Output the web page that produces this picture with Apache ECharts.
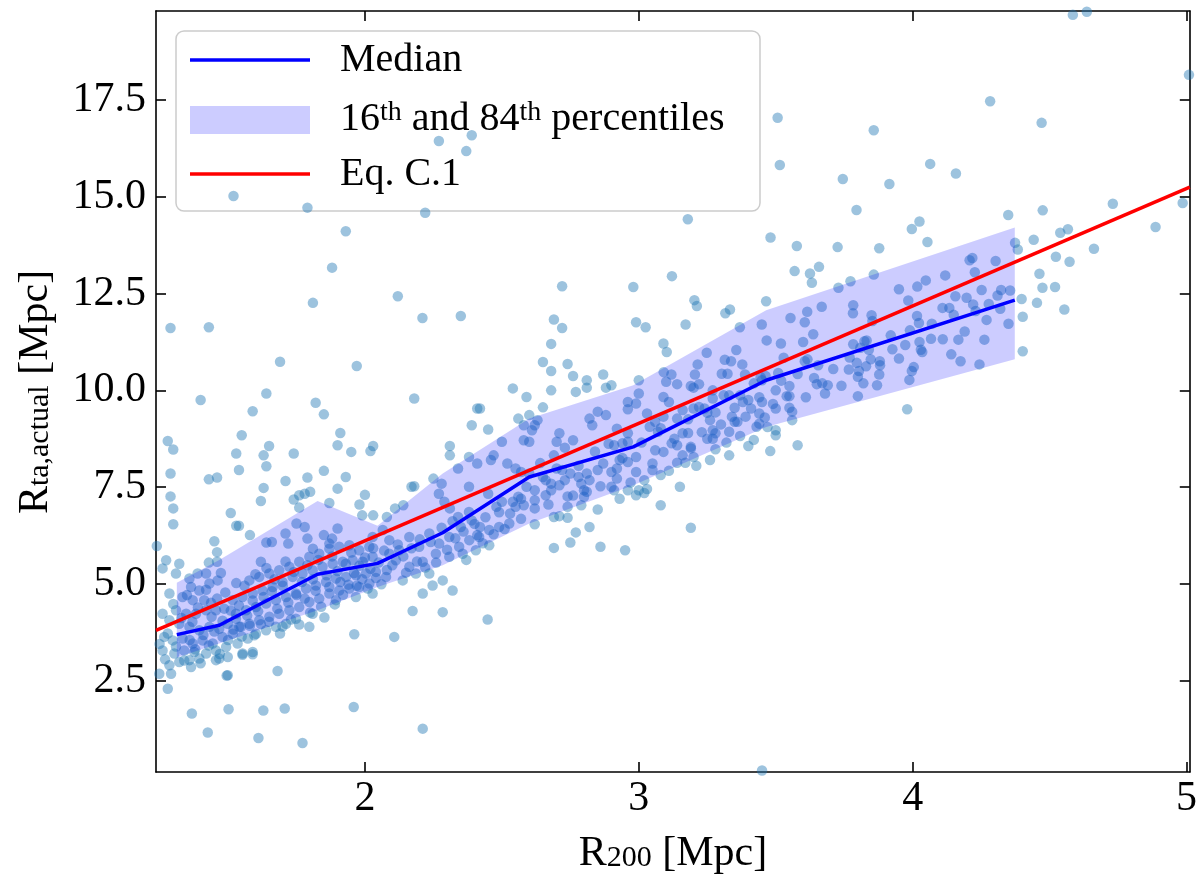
<!DOCTYPE html>
<html>
<head>
<meta charset="utf-8">
<title>R_ta,actual vs R200</title>
<script src="https://cdn.jsdelivr.net/npm/echarts@6/dist/echarts.min.js"></script>
<style>
  html, body { margin: 0; padding: 0; background: #fff; }
  #chart { width: 1200px; height: 892px; }
</style>
</head>
<body>
<div id="chart"></div>
<script>
// axis ranges / ticks
const xRange = [1.237, 5.012];
const yRange = [0.14, 19.80];
const xTicks = [2, 3, 4, 5];
const yTicks = [2.5, 5.0, 7.5, 10.0, 12.5, 15.0, 17.5];

// binned statistics (median + 16th/84th percentiles)
const binR200  = [1.313, 1.468, 1.827, 2.046, 2.284, 2.60, 2.98, 3.465, 4.373];
const medianRta = [3.69, 3.93, 5.25, 5.53, 6.32, 7.76, 8.54, 10.26, 12.33];
const p16Rta   = [3.10, 3.46, 4.32, 4.92, 5.48, 6.56, 7.55, 9.05, 10.80];
const p84Rta   = [5.03, 5.62, 7.14, 6.50, 7.85, 9.27, 10.13, 12.07, 14.21];

// Eq. C.1 (straight line across the plot)
const eqR200 = [1.237, 5.012];
const eqRta  = [3.80, 15.25];

// individual haloes [R200, Rta,actual]
const haloPts = [
  // upper left
  [1.52,15.02],[1.79,14.72],[2.27,16.44],[2.37,16.18],[2.39,16.59],
  [2.22,14.59],[1.93,14.11],[1.88,13.17],[1.81,12.26],[2.12,12.43],[2.21,11.87],[2.35,11.92],
  [1.29,11.61],[1.43,11.63],[1.69,10.74],[1.97,10.63],
  [2.72,12.69],[2.98,12.67],[2.69,11.83],[2.72,11.61],[2.68,11.20],[2.65,10.73],[2.68,10.50],
  [2.74,10.68],[2.76,10.37],[2.87,10.41],[2.99,11.76],
  // upper right
  [4.585,19.70],[4.636,19.78],[5.009,18.15],[4.283,17.47],[3.507,17.04],[3.858,16.72],[4.471,16.91],
  [3.515,15.82],[4.064,15.85],[4.158,15.60],[3.745,15.46],[3.915,15.33],[3.795,14.66],[4.349,14.53],
  [4.475,14.65],[4.731,14.82],[4.986,14.84],[4.887,14.22],[4.662,13.66],[3.179,14.42],[3.481,13.95],
  [3.577,13.73],[3.726,13.70],[3.878,13.67],[3.997,14.17],[4.025,14.36],[4.054,13.83],[4.374,13.81],
  [4.384,13.64],[4.442,13.89],[4.539,14.07],[4.567,14.16],[4.523,13.45],[4.573,13.32],[4.463,13.01],
  [4.474,12.65],[4.520,12.67],[4.398,12.36],[4.454,12.26],[4.554,12.09],[4.402,11.90],[4.402,11.01],
  [3.121,12.95],[3.203,12.33],[3.212,12.18],[3.171,11.70],[3.316,11.99],[3.333,12.09],[3.025,11.63],
  [3.090,11.21],[3.102,10.99],[3.465,12.30],
  [3.569,13.08],[3.625,13.02],[3.632,12.78],[3.658,13.19],[3.729,12.65],[3.773,12.82],[3.858,12.99],
  [3.950,12.61],[3.984,12.32],[4.017,12.68],[4.048,12.84],[4.119,12.97],
  [4.208,13.36],[4.218,13.42],[4.227,13.05],[4.303,13.34],[4.252,12.59],[4.323,12.59],[4.356,12.58],
  [4.156,12.43],[4.197,12.39],[4.221,12.22],[4.278,12.23],[4.320,12.11],[4.109,12.13],[4.134,12.13],
  [3.783,12.20],[3.782,11.99],[3.668,12.16],[3.615,12.03],[3.606,11.76],[3.554,11.87],[3.449,11.70],
  [3.369,11.63],[3.248,10.97],[3.314,10.79],[3.337,10.75],[3.356,11.04],[3.378,10.67],
  [3.467,11.29],[3.519,11.21],[3.600,11.25],[3.637,11.45],[3.529,10.84],[3.606,10.75],[3.616,10.80],[3.655,10.65],
  [3.783,11.19],[3.809,11.10],[3.832,11.29],[3.824,11.27],[3.850,11.94],[3.853,11.79],
  [3.926,11.06],[3.973,11.17],[4.025,11.25],[4.035,10.99],[4.067,11.33],[4.016,11.92],[4.023,11.74],
  [4.141,10.93],[4.175,10.75],[4.167,11.31],[4.244,10.67],[4.262,11.31],
  [3.796,10.71],[3.767,10.54],[3.804,10.50],[3.830,10.62],[3.847,10.80],[3.881,10.65],[3.878,10.41],
  [4.004,10.60],[3.997,10.50],[3.988,10.27],[3.98,9.51],
  [3.463,10.37],[3.509,10.45],[3.091,10.47],[3.119,10.41],[3.205,10.41],[3.215,10.67],
  [3.303,10.43],[3.324,10.43],[3.388,10.41],[3.445,10.34],
  [3.52,10.25],[3.58,10.42],[3.64,10.32],[3.71,10.55],[3.77,10.85],[3.84,11.05],[3.92,11.42],
  [3.99,11.55],[4.07,11.72],[4.11,11.32],[4.15,11.95],[4.19,11.52],[4.23,12.05],[4.27,11.82],
  [4.31,12.45],[4.35,11.72],[3.95,10.82],[4.03,11.05],[3.88,10.75],[3.74,10.12],[3.80,10.35],[3.68,9.92],
  // middle band
  [2.59,9.83],[2.68,10.00],[2.77,9.96],[2.81,10.07],[2.81,10.26],[2.88,10.07],[2.90,10.13],[3.00,10.26],
  [3.10,10.22],[3.14,10.16],[3.19,10.11],[3.22,10.16],[3.20,10.07],[3.27,10.00],[3.31,9.87],[3.33,9.87],
  [3.37,9.87],[3.42,10.18],[3.45,10.26],[3.50,10.00],[3.55,10.11],[3.55,9.85],[3.65,10.16],[3.67,10.18],
  [3.69,10.13],[3.82,10.18],[3.87,10.13],[3.80,9.85],
  [2.65,9.56],[2.60,9.36],[2.63,9.23],[2.62,9.10],[2.61,8.97],[2.58,9.10],[2.58,8.71],[2.60,8.67],
  [2.71,8.89],[2.70,8.67],[2.76,8.71],[2.82,9.27],[2.85,9.45],[2.83,9.10],[2.88,9.36],[2.92,9.01],
  [2.96,8.89],[2.96,8.67],[2.94,8.63],[2.91,8.58],[2.96,9.51],[2.96,9.70],[2.99,9.66],[3.00,9.92],
  [3.03,9.40],[3.04,9.06],[3.06,9.19],[3.07,8.93],[3.09,9.32],[3.09,9.83],[3.11,9.70],[3.14,9.27],
  [3.12,8.63],[3.14,8.58],[3.16,9.49],[3.18,8.90],[3.16,8.89],[3.19,8.54],[3.20,9.53],[3.22,9.57],
  [3.24,9.53],[3.27,9.79],[3.28,9.43],[3.26,9.23],[3.27,8.97],[3.25,8.75],[3.27,8.75],[3.28,8.89],
  [3.33,8.93],[3.34,9.32],[3.35,9.19],[3.36,9.19],[3.38,9.70],[3.40,9.75],[3.41,9.53],[3.44,9.40],
  [3.45,9.70],[3.46,9.30],[3.43,9.06],[3.44,9.14],[3.50,9.53],[3.54,9.85],[3.56,9.45],[3.56,9.23],
  [3.50,8.97],[3.50,8.84],[3.58,8.58],[3.48,8.43],[3.40,8.56],[3.33,8.32],[3.26,8.20],
  [2.57,7.89],[2.60,7.85],[2.59,7.51],[2.57,7.20],[2.58,7.03],[2.62,7.16],[2.62,6.95],[2.65,7.76],
  [2.66,7.68],[2.68,7.59],[2.70,7.98],[2.72,7.94],[2.73,7.68],[2.75,7.85],[2.78,7.76],[2.79,7.59],
  [2.80,7.42],[2.82,7.68],[2.85,7.94],[2.87,8.11],[2.90,7.89],[2.92,7.98],[2.93,8.20],[2.96,8.15],
  [2.99,8.28],[2.99,7.89],[3.02,7.68],[3.05,8.11],[3.05,7.94],[3.08,7.81],[3.09,8.41],[3.14,8.13],
  [3.17,8.13],[3.19,8.50],[3.20,8.28],
  [2.66,7.29],[2.68,7.42],[2.74,7.26],[2.74,6.99],[2.79,7.03],[2.80,7.25],[2.81,7.38],[2.85,6.92],
  [2.90,7.51],[2.91,7.42],[2.93,7.20],[2.96,7.42],[2.99,7.29],[3.00,7.42],[3.02,7.35],[3.08,7.03],
  [3.15,7.51],[2.69,6.73],[2.71,6.75],[2.74,6.71],[2.62,6.54],[2.82,6.47],[2.77,6.33],[2.75,6.07],
  [2.69,5.93],[2.86,5.96],[2.95,5.87],[3.19,6.45],[3.45,0.18],
  [2.62,7.42],[2.64,8.12],[2.67,7.05],[2.69,8.32],[2.71,7.55],[2.73,8.52],[2.76,7.28],[2.78,8.05],
  [2.81,7.85],[2.84,8.42],[2.86,7.52],[2.89,8.62],[2.92,7.72],[2.94,8.25],[2.97,7.62],[3.01,8.65],
  [3.03,7.45],[3.06,8.45],[3.08,9.02],[3.11,7.92],[3.13,8.75],[3.16,8.32],[3.18,9.25],[3.21,8.05],
  [3.23,8.92],[3.25,9.42],[3.28,8.48],[3.30,9.12],[3.32,8.65],[3.35,9.55],[3.37,8.82],[3.39,9.32],
  [3.42,8.72],[3.44,9.82],[3.47,9.05],[3.49,9.65],[3.55,9.55],[3.61,9.82],
  // left, above the band
  [1.40,9.75],[1.64,9.92],[1.82,9.68],[1.85,9.38],[1.59,9.46],[2.18,9.79],[2.54,10.05],
  [1.28,8.69],[1.30,8.47],[1.29,7.85],[1.29,7.26],[1.30,6.95],[1.30,6.54],[1.24,5.98],
  [1.55,8.84],[1.53,8.37],[1.54,7.94],[1.43,7.70],[1.46,7.75],
  [1.63,8.32],[1.65,8.56],[1.64,8.04],[1.63,7.48],[1.62,7.14],
  [1.74,8.37],[1.71,7.66],[1.74,7.18],[1.76,7.29],[1.78,7.33],[1.80,7.38],[1.76,6.97],[1.79,7.75],
  [1.91,8.90],[1.90,8.58],[1.95,8.41],[1.85,7.92],[1.93,7.76],[1.90,7.46],[1.87,7.09],
  [2.02,8.43],[2.03,8.56],[2.00,7.30],[1.98,7.05],[1.99,6.77],[2.03,6.77],
  [1.51,6.83],[1.53,6.50],[1.54,6.50],[1.58,6.26],[1.45,6.10],[1.46,5.82],[1.43,5.55],[1.46,5.57],
  [1.64,6.07],[1.66,6.08],[1.62,5.57],[1.71,6.30],[1.72,6.04],[1.75,6.56],[1.78,6.47],[1.79,6.17],
  [1.81,5.91],[1.85,6.26],[1.87,6.04],[1.88,6.17],[1.90,6.43],
  [2.17,7.51],[2.18,7.52],[2.14,7.03],[2.11,6.95],[2.08,6.73],
  [2.25,7.72],[2.28,7.59],[2.31,8.56],[2.31,8.32],[2.34,7.98],[2.38,7.51],[2.38,8.28],[2.41,8.11],
  [2.39,9.10],[2.41,9.53],[2.42,9.53],[2.45,8.99],[2.47,8.32],[2.46,8.20],[2.50,8.67],[2.52,8.11],
  [2.55,7.98],[2.56,9.27],
  [2.27,7.33],[2.29,7.12],[2.31,6.95],[2.34,6.73],[2.35,6.47],[2.38,6.86],[2.39,6.64],[2.41,6.26],
  [2.42,6.47],[2.45,7.33],[2.48,6.99],[2.50,7.12],[2.53,6.82],[2.55,6.99],[2.56,7.25],
  [2.089,6.13],[2.125,5.87],[2.162,6.21],[2.198,5.96],[2.235,6.30],[2.271,6.04],[2.308,6.21],[2.344,5.96],
  [2.381,6.13],[2.417,6.21],[2.454,6.39],[2.490,6.47],[2.527,6.56],[2.113,5.61],[2.162,5.44],[2.211,5.57],
  [2.259,5.78],[2.308,5.70],[2.357,5.78],[2.405,5.87],[2.454,6.00],[2.077,5.18],[2.138,5.09],[2.186,5.27],
  [2.235,5.27],[2.089,5.78],[2.028,6.21],[2.065,6.39],
  // dense lower-left cloud
  [1.322,5.52],[1.274,5.61],[1.261,5.40],[1.310,5.27],[1.286,4.75],[1.359,5.14],[1.389,5.27],[1.420,5.27],
  [1.365,4.92],[1.395,4.83],[1.432,5.01],[1.462,5.09],[1.474,5.28],[1.334,4.66],[1.371,4.58],[1.413,4.58],
  [1.438,4.51],[1.310,4.32],[1.347,4.23],[1.383,4.23],[1.420,4.32],[1.456,4.32],[1.486,4.36],[1.261,4.23],
  [1.286,4.06],[1.322,3.97],[1.359,3.89],[1.395,3.80],[1.432,3.89],[1.468,3.84],[1.499,3.97],[1.529,4.10],
  [1.267,3.63],[1.298,3.54],[1.334,3.59],[1.371,3.46],[1.407,3.54],[1.444,3.46],[1.480,3.63],[1.517,3.71],
  [1.547,3.89],[1.261,3.28],[1.304,3.20],[1.340,3.28],[1.377,3.24],[1.420,3.20],[1.456,3.28],[1.493,3.37],
  [1.535,3.46],[1.572,3.59],[1.286,2.90],[1.322,2.98],[1.359,3.03],[1.395,3.07],[1.456,3.03],[1.499,3.11],
  [1.553,3.20],[1.590,3.24],[1.249,2.68],[1.292,2.68],[1.365,2.85],[1.468,3.07],[1.499,2.64],[1.681,2.75],
  [1.280,2.29],[1.596,3.67],
  [1.517,4.58],[1.553,4.66],[1.590,4.75],[1.626,4.83],[1.663,4.92],[1.699,5.05],[1.736,5.18],[1.772,5.27],
  [1.809,5.35],[1.845,5.44],[1.882,5.52],[1.919,5.57],[1.955,5.61],[1.992,5.57],[2.028,5.70],
  [1.529,4.23],[1.566,4.32],[1.602,4.40],[1.639,4.49],[1.675,4.58],[1.712,4.66],[1.748,4.75],[1.785,4.88],
  [1.821,4.96],[1.858,5.05],[1.894,5.14],[1.931,5.18],[1.967,5.22],[2.004,5.27],[2.040,5.31],
  [1.541,3.89],[1.578,3.97],[1.614,4.06],[1.651,4.15],[1.687,4.23],[1.724,4.32],[1.760,4.40],[1.797,4.53],
  [1.833,4.62],[1.870,4.75],[1.906,4.83],[1.943,4.88],[1.979,4.92],[2.016,5.01],
  [1.602,3.71],[1.639,3.80],[1.675,3.89],[1.712,3.97],[1.748,4.10],[1.809,4.23],[1.852,4.13],[1.894,4.58],
  [1.967,4.66],[2.028,4.75],
  [1.578,5.09],[1.614,5.18],[1.651,5.27],[1.687,5.35],[1.724,5.44],[1.760,5.57],[1.797,5.70],[1.833,5.78],
  [1.870,5.91],[1.906,5.96],[1.943,6.00],[1.979,5.87],[2.016,5.96],
  [1.590,3.18],[1.553,3.17],[1.699,3.90],[1.797,3.89],[1.961,3.70],[2.107,3.63],[2.174,4.30],[2.284,4.27],
  [2.448,4.08],[2.211,4.75],[2.284,5.09],[2.320,4.83],[2.247,4.96],
  [1.25,3.45],[1.27,3.05],[1.28,3.72],[1.30,4.48],[1.31,3.38],[1.33,4.12],[1.34,3.02],[1.35,4.71],
  [1.36,3.55],[1.37,4.02],[1.38,3.31],[1.39,4.39],[1.40,2.95],[1.41,3.68],[1.42,4.85],[1.43,3.41],
  [1.44,4.15],[1.45,3.77],[1.46,4.62],[1.47,3.19],[1.48,4.05],[1.49,4.78],[1.50,3.55],[1.51,4.31],
  [1.52,3.82],[1.53,5.02],[1.54,4.44],[1.55,3.64],[1.56,4.95],[1.57,4.18],[1.58,3.92],[1.59,4.57],
  [1.60,5.25],[1.61,4.29],[1.62,3.96],[1.63,4.66],[1.64,5.41],[1.65,4.02],[1.66,4.81],[1.67,5.12],
  [1.68,4.36],[1.69,3.72],[1.70,4.95],[1.71,5.58],[1.72,4.52],[1.73,4.08],[1.74,5.31],[1.75,4.71],
  [1.76,3.95],[1.77,5.05],[1.78,4.62],[1.79,5.48],[1.80,4.26],[1.81,5.12],[1.82,4.82],[1.83,5.62],
  [1.84,4.41],[1.86,5.22],[1.87,4.92],[1.88,5.71],[1.89,4.47],[1.90,5.33],[1.91,5.05],[1.92,4.72],
  [1.93,5.52],[1.94,4.98],[1.95,5.81],[1.96,5.28],[1.97,4.95],[1.98,5.47],[1.99,5.12],[2.00,5.68],
  [2.01,4.88],[2.02,5.39],[2.03,5.92],[2.04,5.15],[2.05,5.55],[2.06,4.99],[2.07,5.86],[2.08,5.36],
  [2.10,5.48],[2.12,6.02],[2.14,5.71],[2.15,5.29],[2.17,5.92],[2.19,5.58],[2.20,6.15],[2.22,5.42],
  [2.24,6.08],[2.26,5.55],[2.28,6.45],[2.30,5.88],[2.32,6.62],[2.33,6.18],[2.36,6.35],[2.37,5.62],
  [2.40,6.55],[2.43,6.05],[2.44,6.72],[2.47,6.28],[2.49,6.85],[2.51,6.42],[2.54,7.12],[2.57,6.68],
  // low outliers
  [1.368,1.65],[1.426,1.16],[1.502,1.76],[1.629,1.73],[1.611,1.02],[1.707,1.78],[1.772,0.89],[1.959,1.82],
  [2.211,1.26],[1.495,2.63]
];

const chart = echarts.init(document.getElementById('chart'), null, { renderer: 'canvas' });

const serif = "'Liberation Serif', 'DejaVu Serif', serif";
const axisColor = '#000';

function baseX(pos, showLabel) {
  return {
    type: 'value', position: pos, min: xRange[0], max: xRange[1],
    axisLine: { show: true, onZero: false, lineStyle: { color: axisColor, width: 1.6 } },
    axisTick: { show: true, inside: true, length: 10, customValues: xTicks, lineStyle: { color: axisColor, width: 1.6 } },
    axisLabel: { show: showLabel, customValues: xTicks, margin: 6, color: '#000', fontFamily: serif, fontSize: 42 },
    splitLine: { show: false }
  };
}
function baseY(pos, showLabel) {
  return {
    type: 'value', position: pos, min: yRange[0], max: yRange[1],
    axisLine: { show: true, onZero: false, lineStyle: { color: axisColor, width: 1.6 } },
    axisTick: { show: true, inside: true, length: 10, customValues: yTicks, lineStyle: { color: axisColor, width: 1.6 } },
    axisLabel: { show: showLabel, customValues: yTicks, margin: 10, color: '#000', fontFamily: serif, fontSize: 42,
      formatter: v => v.toFixed(1) },
    splitLine: { show: false }
  };
}

const option = {
  animation: false,
  backgroundColor: '#fff',
  grid: { left: 156, right: 10, top: 11, bottom: 120 },
  xAxis: [baseX('bottom', true), baseX('top', false)],
  yAxis: [baseY('left', true), baseY('right', false)],
  series: [
    {
      name: 'haloes', type: 'scatter', data: haloPts, symbolSize: 10.5, z: 2, clip: true,
      itemStyle: { color: 'rgba(31,119,180,0.55)' }
    },
    {
      // 16th-84th percentile band
      name: 'band', type: 'custom', z: 3,
      data: binR200.map((x, i) => [x, p16Rta[i], p84Rta[i]]),
      encode: { x: 0, y: [1, 2] },
      renderItem: function (params, api) {
        if (params.dataIndex !== 0) return;
        const pts = [];
        for (let i = 0; i < binR200.length; i++) pts.push(api.coord([binR200[i], p84Rta[i]]));
        for (let i = binR200.length - 1; i >= 0; i--) pts.push(api.coord([binR200[i], p16Rta[i]]));
        return { type: 'polygon', shape: { points: pts }, style: { fill: 'rgba(0,0,255,0.2)' } };
      }
    },
    {
      name: 'Median', type: 'line', z: 4, symbol: 'none',
      data: binR200.map((x, i) => [x, medianRta[i]]),
      lineStyle: { color: '#0000ff', width: 3.5 }
    },
    {
      name: 'Eq. C.1', type: 'line', z: 5, symbol: 'none',
      data: eqR200.map((x, i) => [x, eqRta[i]]),
      lineStyle: { color: '#ff0000', width: 3.5 }
    }
  ],
  graphic: [
    // axis titles
    {
      type: 'text', x: 673, y: 856, z: 10,
      style: {
        text: '{m|R}{s|200}{m| [Mpc]}', align: 'center', verticalAlign: 'middle',
        rich: {
          m: { fontFamily: serif, fontSize: 42, lineHeight: 46, verticalAlign: 'top', fill: '#000' },
          s: { fontFamily: serif, fontSize: 30, lineHeight: 46, verticalAlign: 'top', padding: [10, 0, 0, 0], fill: '#000' }
        }
      }
    },
    {
      type: 'text', x: 38, y: 392, rotation: Math.PI / 2, z: 10,
      style: {
        text: '{m|R}{s|ta,actual}{m| [Mpc]}', align: 'center', verticalAlign: 'middle',
        rich: {
          m: { fontFamily: serif, fontSize: 42, lineHeight: 46, verticalAlign: 'top', fill: '#000' },
          s: { fontFamily: serif, fontSize: 30, lineHeight: 46, verticalAlign: 'top', padding: [10, 0, 0, 0], fill: '#000' }
        }
      }
    },
    // legend
    {
      type: 'group', z: 20,
      children: [
        { type: 'rect', shape: { x: 176, y: 31, width: 584, height: 180, r: 8 },
          style: { fill: 'rgba(255,255,255,0.8)', stroke: '#cccccc', lineWidth: 1.5 } },
        { type: 'line', shape: { x1: 190, y1: 60, x2: 310, y2: 60 }, style: { stroke: '#0000ff', lineWidth: 3.5 } },
        { type: 'rect', shape: { x: 190, y: 106, width: 120, height: 28 }, style: { fill: 'rgba(0,0,255,0.2)' } },
        { type: 'line', shape: { x1: 190, y1: 174, x2: 310, y2: 174 }, style: { stroke: '#ff0000', lineWidth: 3.5 } },
        { type: 'text', x: 340, y: 60, style: { text: 'Median', fontFamily: serif, fontSize: 40, fill: '#000', verticalAlign: 'middle' } },
        { type: 'text', x: 340, y: 117,
          style: {
            text: '{n|16}{p|th}{n| and 84}{p|th}{n| percentiles}', verticalAlign: 'middle',
            rich: {
              n: { fontFamily: serif, fontSize: 40, lineHeight: 44, verticalAlign: 'bottom', fill: '#000' },
              p: { fontFamily: serif, fontSize: 28, lineHeight: 44, verticalAlign: 'bottom', padding: [0, 0, 12, 0], fill: '#000' }
            }
          } },
        { type: 'text', x: 340, y: 174, style: { text: 'Eq. C.1', fontFamily: serif, fontSize: 40, fill: '#000', verticalAlign: 'middle' } }
      ]
    }
  ]
};

chart.setOption(option);
</script>
</body>
</html>
